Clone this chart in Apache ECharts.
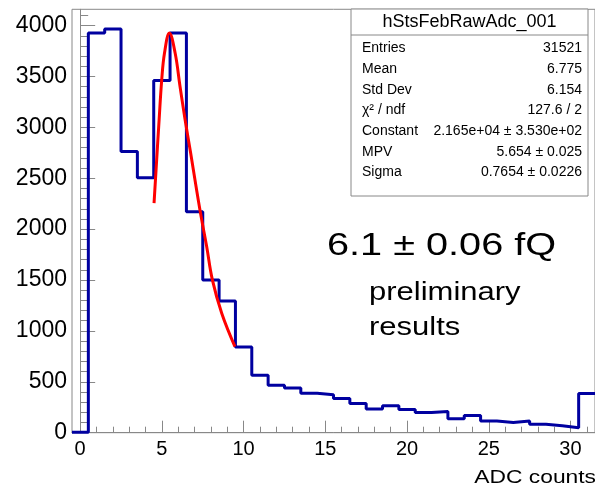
<!DOCTYPE html>
<html>
<head>
<meta charset="utf-8">
<script src="https://cdn.jsdelivr.net/npm/echarts@6/dist/echarts.min.js"></script>
<style>
html, body { margin: 0; padding: 0; background: #fff; }
#chart { width: 595px; height: 486px; }
</style>
</head>
<body>
<div id="chart"></div>
<script>
// 每个 bin 的中心（ADC 值）
var binCenters = [0, 1, 2, 3, 4, 5, 6, 7, 8, 9, 10, 11, 12, 13, 14, 15,
                  16, 17, 18, 19, 20, 21, 22, 23, 24, 25, 26, 27, 28, 29, 30, 31];
// 每个 bin 的计数
var counts = [5, 3927, 3966, 2763, 2504, 3461, 3927, 2170, 1501, 1295, 843, 564, 466, 438, 387, 374,
              336, 287, 233, 266, 228, 199, 208, 138, 168, 115, 100, 115, 82, 68, 49, 386];
// 红色拟合曲线上读出的点
var fitX = [4.52, 4.83, 4.99, 5.16, 5.46, 5.81, 6.11, 6.42, 6.76, 7.09, 7.40, 7.74, 8.09, 8.66, 9.47];
var fitY = [2256, 3073, 3467, 3730, 3927, 3730, 3402, 3075, 2747, 2419, 2124, 1829, 1501, 1174, 846];
// 刻度
var xTicks = [0, 5, 10, 15, 20, 25, 30];
var yTicks = [0, 500, 1000, 1500, 2000, 2500, 3000, 3500, 4000];
// 统计框
var statNames = ['Entries', 'Mean', 'Std Dev', 'χ² / ndf', 'Constant', 'MPV', 'Sigma'];
var statValues = ['31521', '6.775', '6.154', '127.6 / 2', '2.165e+04 ± 3.530e+02', '5.654 ± 0.025', '0.7654 ± 0.0226'];

var chart = echarts.init(document.getElementById('chart'));

// 直方图阶梯：每个 bin 从左边缘画到右边缘
var histData = [];
for (var i = 0; i < binCenters.length; i++) {
    histData.push([binCenters[i] - 0.5, counts[i]]);
}
histData.push([binCenters[binCenters.length - 1] + 0.5, counts[counts.length - 1]]);

var fitData = fitX.map(function (x, i) { return [x, fitY[i]]; });

// 小刻度
var xMinor = [], yMinor = [];
for (var k = 0; k <= 31; k++) xMinor.push(k);
for (var m = 0; m <= 4100; m += 100) yMinor.push(m);

var font = 'Liberation Sans, Arial, sans-serif';
var gray = '#888';

// 统计框的图形元素
var boxL = 351, boxR = 588, boxT = 9, boxB = 196;
var statEls = [
    { type: 'rect', shape: { x: boxL, y: boxT, width: boxR - boxL, height: boxB - boxT },
      style: { fill: '#fff', stroke: gray, lineWidth: 1 } },
    { type: 'line', shape: { x1: boxL, y1: 35, x2: boxR, y2: 35 }, style: { stroke: gray, lineWidth: 1 } },
    { type: 'text', x: (boxL + boxR) / 2, y: 22,
      style: { text: 'hStsFebRawAdc_001', font: '18px ' + font, fill: '#000', textAlign: 'center', textVerticalAlign: 'middle' } }
];
statNames.forEach(function (n, i) {
    var yy = 48.5 + i * 20.65;
    statEls.push({ type: 'text', x: 362, y: yy,
        style: { text: n, font: '14px ' + font, fill: '#000', textAlign: 'left', textVerticalAlign: 'middle' } });
    statEls.push({ type: 'text', x: 582, y: yy,
        style: { text: statValues[i], font: '14px ' + font, fill: '#000', textAlign: 'right', textVerticalAlign: 'middle' } });
});

var option = {
    backgroundColor: '#fff',
    animation: false,
    grid: {
        left: 72,
        right: -2,
        top: 9.3,
        bottom: 53.3,
        show: true,
        borderColor: gray,
        borderWidth: 1
    },
    xAxis: [
        {
            type: 'value',
            min: -0.5,
            max: 31.5,
            axisLine: { show: true, lineStyle: { color: gray, width: 1 } },
            axisTick: { show: true, inside: true, length: 12, customValues: xTicks, lineStyle: { color: gray } },
            axisLabel: { show: true, customValues: xTicks, margin: 7, color: '#000', fontSize: 20, fontFamily: font },
            splitLine: { show: false }
        },
        {
            type: 'value',
            min: -0.5,
            max: 31.5,
            position: 'bottom',
            axisLine: { show: false },
            axisTick: { show: true, inside: true, length: 6, customValues: xMinor, lineStyle: { color: gray } },
            axisLabel: { show: false },
            splitLine: { show: false }
        }
    ],
    yAxis: [
        {
            type: 'value',
            min: 0,
            max: 4160,
            axisLine: { show: true, lineStyle: { color: gray, width: 1 } },
            axisTick: { show: true, inside: true, length: 15, customValues: yTicks, lineStyle: { color: gray } },
            axisLabel: {
                show: true, customValues: yTicks, margin: 5, color: '#000', fontSize: 23, fontFamily: font,
                formatter: function (v) { return String(v); }
            },
            splitLine: { show: false }
        },
        {
            type: 'value',
            min: 0,
            max: 4160,
            position: 'left',
            axisLine: { show: false },
            axisTick: { show: true, inside: true, length: 8, customValues: yMinor, lineStyle: { color: gray } },
            axisLabel: { show: false },
            splitLine: { show: false }
        }
    ],
    series: [
        {
            name: 'hStsFebRawAdc_001',
            type: 'line',
            step: 'end',
            data: histData,
            showSymbol: false,
            lineStyle: { color: '#0000a0', width: 3 },
            z: 2
        },
        {
            name: 'fit',
            type: 'line',
            data: fitData,
            smooth: 0.4,
            showSymbol: false,
            lineStyle: { color: '#ff0000', width: 3 },
            z: 3
        }
    ],
    graphic: [
        { type: 'group', children: statEls },
        { type: 'text', x: 327, y: 246, scaleX: 1.24,
          style: { text: '6.1 ± 0.06 fQ', font: '32px ' + font, fill: '#000', textAlign: 'left', textVerticalAlign: 'middle' } },
        { type: 'text', x: 369, y: 293, scaleX: 1.24,
          style: { text: 'preliminary', font: '25px ' + font, fill: '#000', textAlign: 'left', textVerticalAlign: 'middle' } },
        { type: 'text', x: 369, y: 328, scaleX: 1.24,
          style: { text: 'results', font: '25px ' + font, fill: '#000', textAlign: 'left', textVerticalAlign: 'middle' } },
        { type: 'text', x: 596, y: 478, scaleX: 1.2,
          style: { text: 'ADC counts', font: '19px ' + font, fill: '#000', textAlign: 'right', textVerticalAlign: 'middle' } }
    ]
};

chart.setOption(option);

window.addEventListener('resize', function () {
    chart.resize();
});
</script>
</body>
</html>
